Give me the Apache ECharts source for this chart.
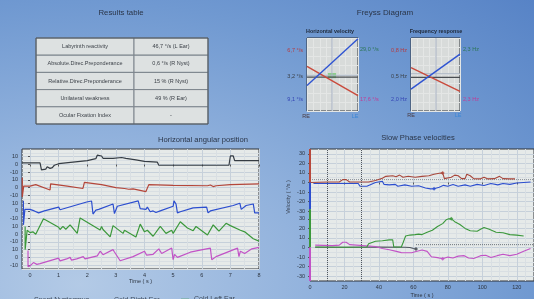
<!DOCTYPE html>
<html>
<head>
<meta charset="utf-8">
<script src="https://cdn.jsdelivr.net/npm/echarts@6/dist/echarts.min.js"></script>
<style>
html, body { margin: 0; padding: 0; width: 534px; height: 299px; overflow: hidden; }
body { background: radial-gradient(ellipse at 15% 95%, #b3cae6 0%, #93b3dd 35%, #7099d1 70%, #5783c6 100%); }
#main { width: 534px; height: 299px; }
</style>
</head>
<body>
<div id="main"></div>
<script>
// results table
const tableLabels = ['Labyrinth reactivity', 'Absolute.Direc.Preponderance', 'Relative.Direc.Preponderance', 'Unilateral weakness', 'Ocular Fixation Index'];
const tableValues = ['46,7 °/s (L Ear)', '0,6 °/s (R Nyst)', '15 % (R Nyst)', '49 % (R Ear)', '-'];

// freyss diagram (x: RE=0 .. LE=1, y: 0..100)
const hvRed = [[0, 61], [1, 21]];
const hvBlue = [[0, 35], [1, 99]];
const hvLevel = 46.5;
const hvLevel2 = 49;
const hvCenter = 0.49;
const hvZone = [[0.41, 45], [0.57, 52]];
const hvLeftLabels = ['6,7 °/s', '3,2 °/s', '9,1 °/s'];
const hvRightLabels = ['29,0 °/s', '17,6 °/s'];
const frRed = [[0, 59.5], [1, 27]];
const frBlue = [[0, 30], [1, 78]];
const frLevel = 46;
const frLevel2 = 51;
const frCenter = 0.51;
const frLeftLabels = ['0,8 Hz', '0,5 Hz', '2,0 Hz'];
const frRightLabels = ['2,3 Hz', '2,3 Hz'];

// horizontal angular position [time s, deg within band]
const hapTicks = [0, 1, 2, 3, 4, 5, 6, 7, 8];
const hapBands = [0, -30, -60, -90, -120];
const spontPos = [[-0.28, 2], [0, 2], [0.35, 2], [0.4, -7], [0.55, -6], [0.6, -3], [0.7, -5], [0.78, -4], [0.85, -1], [1.0, 1], [1.5, 3], [2.0, 5], [2.3, 7.5], [2.35, 12], [2.5, 11], [2.55, 8], [2.9, 8], [3.2, 9], [3.25, 11], [3.35, 8], [3.7, 6], [4.0, 4], [4.45, 3], [4.5, -1], [5, -1], [6, -1], [6.95, -1], [7.0, 11], [7.1, 11], [7.15, 5], [8, 5]];
const warmRightPos = [[-0.27, 13], [-0.27, -12], [-0.22, 2], [0, 2], [0.05, 1], [0.1, 3], [0.2, 4], [0.7, -3], [0.72, 5], [1.3, 2], [1.85, -1], [1.9, 7], [2.5, 4], [3.0, 0], [3.3, -1], [3.35, 1], [3.45, -2], [3.6, -1.5], [4.05, -5], [4.15, 4], [5, 3], [6.2, 2.5], [6.3, 3.5], [6.4, 1.5], [6.5, 2.5], [7, 4], [8, 5]];
const coldRightPos = [[-0.23, 13], [-0.23, -18], [-0.18, 2], [0, 2], [0.15, 0], [0.3, -2.5], [0.5, 0], [1.0, 5], [1.05, 1.5], [1.1, 3], [1.98, 11.5], [2.15, 12.8], [2.2, -4], [2.3, 1], [2.4, 2], [2.9, 9], [2.95, -3.4], [3.0, -3.4], [3.05, 6], [3.1, 6], [3.78, 13], [3.85, 3], [4.05, 2], [4.1, 5], [4.2, -1], [4.3, 0], [4.4, -2], [4.55, 0], [5.0, 6], [5.03, 13], [5.1, 9], [5.15, -2.5], [5.25, -1], [5.7, 4], [6.17, 5], [6.22, -2.5], [6.3, 0], [7.1, 7], [7.33, 10], [7.38, 2], [7.55, 7], [7.8, 9], [7.85, -2.5], [8, -2.5]];
const coldLeftPos = [[-0.17, 10], [-0.17, -20], [-0.1, 5], [0, 2], [0.1, 3], [0.2, 0], [0.47, 20], [1.0, 9], [1.05, 6], [1.15, 10], [1.25, 6.4], [1.4, 12], [1.45, 10], [1.65, 1], [1.75, 21], [2.45, 5.5], [2.5, 10], [2.55, 6], [2.8, -3.6], [2.9, 11], [3.25, 1], [3.3, 5], [3.35, 3], [3.7, -3.6], [3.85, 13], [4.0, 3], [4.1, 5], [4.3, -2.7], [4.55, 10], [4.75, 1], [4.95, 5], [5.0, 1], [5.25, 16], [5.5, 8], [5.7, 4.5], [5.8, 10], [6.2, -1], [6.4, 12], [6.5, 8], [6.6, 4], [6.85, 14], [7.0, 11], [7.35, 5], [7.5, 3], [7.8, -6], [8, -9]];
const warmLeftPos = [[-0.07, 9], [-0.07, -12], [0, -11], [0.12, -6.7], [0.24, -9], [0.35, -8], [1.0, -1], [1.05, -4.5], [1.28, -2], [1.4, 0], [1.45, -3.5], [1.63, -2], [1.86, 1], [1.92, -2], [2.35, 2], [2.45, 8], [2.55, 3.5], [2.9, 10], [2.95, 7], [3.15, -4.4], [3.6, 1], [4.0, 8], [4.07, 3], [4.3, 4], [4.5, 11], [4.6, 5], [4.95, 12], [5.0, -3], [5.05, 4], [5.15, 0], [5.6, 6.7], [5.9, 9], [6.3, 12], [6.35, -3], [6.5, 1], [7.25, 12], [7.3, 1], [7.35, 8], [7.5, 5], [7.75, 11], [8, 13]];

// slow phase velocities [time s, deg/s within band]
const spvBands = [0, -68];
const spvTicks = [30, 20, 10, 0, -10, -20, -30];
const spvMarkTimes = [10, 30];
const spvRed = [[0, 0], [10, 0.5], [17, 0.5], [19, 3], [21, 3], [23, 0.5], [34, 0.5], [38, 2], [42, 4.5], [44, 6.4], [48, 7], [50, 6], [52, 7.7], [54, 5.5], [57, 6.5], [61, 5.4], [65, 6.4], [69, 7], [72, 8.6], [75, 9.6], [77, 10], [78, 4], [82, 5.5], [84, 7.7], [86, 7], [88, 4], [90, 4], [91, 8.6], [93, 7], [95, 4], [99, 3.8], [101, 5.4], [103, 3.8], [107, 4], [110, 6.4], [112, 4], [116, 3.8], [119, 3.8]];
const spvBlue = [[2, -1], [28, -1], [29, -4], [33, -4], [34, -2], [38, 0], [42, 1.3], [43, -2], [46, -2.5], [49.5, -2], [51, -4], [55, -2.5], [59, -4], [63, -3.5], [67, -5.8], [70, -6.7], [72, -6.5], [75, -5], [77.5, -3], [80, -4], [83, -2], [86, -4], [90, -2.5], [93, -4], [97, -2], [101, -3.2], [105, -1], [109, -2.5], [112, -1], [116, -2], [120, -0.5], [124, 0], [128, 0.5]];
const spvGreen = [[3, 0.5], [20, 0.3], [33, 0.5], [34, 4], [38, 6.5], [42, 7], [46, 8], [48, 8], [48.6, 0.6], [53, 0.6], [54, 5], [55.5, 12], [58, 13], [61, 13.5], [63, 14], [65, 13.5], [68, 16], [71, 18], [74, 22], [77, 25], [79, 29], [80.5, 30], [82, 30], [84, 27], [87, 24], [90, 20], [93, 17.5], [97, 17], [99, 19], [101, 21], [104, 19], [108, 16], [112, 15.5], [116, 13.5], [120, 13], [124, 12]];
const spvMagenta = [[3, 2.5], [13, 2], [17, 2.5], [19, 5.5], [21, 5.5], [23, 3], [24, 1.5], [38, 1], [42, -1], [46, -2.3], [49.5, -3.8], [53, -5.3], [59, -5.5], [61, -4.5], [65, -2.5], [68, -4], [70.5, -9.7], [74, -10.6], [77, -11.8], [80, -10], [83, -11], [86, -9], [89.5, -8.5], [92, -11], [95, -11.5], [99, -8.5], [102, -8], [105, -10.5], [108.6, -8.5], [112, -7], [116, -8.5], [120, -7], [124, -3.8], [128, -1]];
const spvSpont = [[3, 0.3], [20, 0.3], [40, 0.5], [55, 0.3], [58, 0], [60, -1], [61.5, -1.5]];
const spvMeanUpper = [[0, 3], [130, 3]];
const spvMeanLower = [[61.5, 3], [130, 3]];
// [time, value, band, colour index]
const spvPeaks = [[77, 10, 0, 0], [72, -6.5, 0, 1], [82, 30, 1, 2], [77, -11.8, 1, 3], [61.5, -1.5, 1, 4]];

const C = {
  dark: '#353c44', red: '#b4463a', blue: '#2c4ecf', green: '#3b983b', pink: '#c253c6',
  plot: '#e6eae9', grid: '#c6d0da', minor: '#d9dfe3', text: '#2a3548'
};
const spvColors = [C.red, C.blue, C.green, C.pink, C.dark];
const FONT = '"Liberation Sans", Arial, sans-serif';

const chart = echarts.init(document.getElementById('main'), null, { renderer: 'canvas' });

const band = (arr, off) => arr.map(p => [p[0], p[1] + off]);
const hapY = [];
hapBands.forEach(b => [10, 0, -10].forEach(v => hapY.push(b + v)));
const hapYMinor = hapY.map(v => v + 5).concat([hapY[hapY.length - 1] - 5]);
const spvY = [];
spvBands.forEach(b => spvTicks.forEach(v => spvY.push(b + v)));
const spvYMinor = [];
spvBands.forEach(b => [25, 15, 5, -5, -15, -25].forEach(v => spvYMinor.push(b + v)));
const spvSplit = spvBands[1] / 2;

function txt(text, x, y, size, color, align, extra) {
  return Object.assign({
    type: 'text', x: x, y: y, silent: true,
    style: { text: text, fill: color, font: size + 'px ' + FONT, textAlign: align || 'center', textVerticalAlign: 'middle', align: align || 'center', verticalAlign: 'middle' }
  }, extra || {});
}

// table + texts
const graphics = [];
const tX = [36, 134, 208];
const tTop = 38;
const rowH = 17.2;
tableLabels.forEach((lab, i) => {
  const y = tTop + i * rowH;
  graphics.push({ type: 'rect', shape: { x: tX[0], y: y, width: tX[1] - tX[0], height: rowH }, style: { fill: '#dde1e1', stroke: '#7c848c', lineWidth: 1 }, silent: true });
  graphics.push({ type: 'rect', shape: { x: tX[1], y: y, width: tX[2] - tX[1], height: rowH }, style: { fill: '#dde1e1', stroke: '#7c848c', lineWidth: 1 }, silent: true });
  graphics.push(txt(lab, (tX[0] + tX[1]) / 2, y + rowH / 2, 5.5, '#3a3f46'));
  graphics.push(txt(tableValues[i], (tX[1] + tX[2]) / 2, y + rowH / 2, 5.5, '#3a3f46'));
});
graphics.push({ type: 'rect', shape: { x: tX[0], y: tTop, width: tX[2] - tX[0], height: rowH * 5 }, style: { fill: 'none', stroke: '#4c545c', lineWidth: 1 }, silent: true });

graphics.push(txt('Results table', 121, 13, 7.8, C.text));
graphics.push(txt('Freyss Diagram', 385, 13, 8, C.text));
graphics.push(txt('Horizontal angular position', 203, 140, 7.6, C.text));
graphics.push(txt('Slow Phase velocities', 418, 138, 7.6, C.text));
const boldSmall = t => ({ text: t, fill: '#1e2838', font: 'bold 5.4px ' + FONT, textAlign: 'center', textVerticalAlign: 'middle', align: 'center', verticalAlign: 'middle' });
graphics.push(txt('Horizontal velocity', 330, 32, 5.6, '#1e2838', 'center', { style: boldSmall('Horizontal velocity') }));
graphics.push(txt('Frequency response', 436, 32, 5.6, '#1e2838', 'center', { style: boldSmall('Frequency response') }));

const leftCols = ['#b43a40', '#3a4048', '#3444b4'];
const rightCols = ['#2c7656', '#c03c96'];
const leftY = [50, 76, 99];
const rightY = [49, 99];
hvLeftLabels.forEach((t, i) => graphics.push(txt(t, 303, leftY[i], 5.5, leftCols[i], 'right')));
hvRightLabels.forEach((t, i) => graphics.push(txt(t, 360, rightY[i], 5.5, rightCols[i], 'left')));
frLeftLabels.forEach((t, i) => graphics.push(txt(t, 407, leftY[i], 5.5, leftCols[i], 'right')));
frRightLabels.forEach((t, i) => graphics.push(txt(t, 463, rightY[i], 5.5, rightCols[i], 'left')));
graphics.push(txt('RE', 306, 116, 5.5, '#4a3a40'));
graphics.push(txt('LE', 355, 116, 5.5, '#3a86d6'));
graphics.push(txt('RE', 411, 115, 5.5, '#4a3a40'));
graphics.push(txt('LE', 458, 115, 5.5, '#3a86d6'));
graphics.push(txt('Velocity ( °/s )', 288, 197, 5.5, '#3a4454', 'center', { rotation: Math.PI / 2 }));

const axisText = { fontSize: 5.5, color: '#2c3440', fontFamily: FONT };
const hidden = { show: false };

function box(gi) {
  return [
    { gridIndex: gi, type: 'value', min: 0, max: 1, interval: 0.125, axisLabel: hidden, axisTick: hidden, axisLine: hidden, splitLine: { lineStyle: { color: '#e4e6e5', width: 1 } } },
    { gridIndex: gi, type: 'value', min: 0, max: 100, interval: 12.5, axisLabel: hidden, axisTick: hidden, axisLine: hidden, splitLine: { lineStyle: { color: '#e4e6e5', width: 1 } } }
  ];
}
const hvAxes = box(2);
const frAxes = box(3);

function seg(data, color, width, xi, yi, extra) {
  return Object.assign({
    type: 'line', data: data, xAxisIndex: xi, yAxisIndex: yi, showSymbol: false, silent: true,
    animation: false, lineStyle: { color: color, width: width }, itemStyle: { color: color }
  }, extra || {});
}

const option = {
  animation: false,
  backgroundColor: 'transparent',
  textStyle: { fontFamily: FONT },
  graphic: graphics,
  grid: [
    { left: 22, right: 275, top: 149, bottom: 30, show: true, backgroundColor: C.plot, borderColor: '#2e3338', borderWidth: 1 },
    { left: 310, right: -4, top: 149, bottom: 7, show: true, backgroundColor: C.plot, borderColor: '#2e3338', borderWidth: 1 },
    { left: 307, width: 51, top: 38, height: 73, show: true, backgroundColor: '#d8dbda', borderColor: '#2e3338', borderWidth: 1 },
    { left: 411, width: 49, top: 38, height: 73, show: true, backgroundColor: '#d8dbda', borderColor: '#2e3338', borderWidth: 1 }
  ],
  legend: [
    { data: ['Spont Nystagmus'], left: 16, top: 292, icon: 'rect', itemWidth: 8, itemHeight: 1.5, textStyle: { fontSize: 7, color: '#3c4a5c', fontFamily: FONT } },
    { data: ['Cold Right Ear'], left: 96, top: 292, icon: 'rect', itemWidth: 8, itemHeight: 1.5, textStyle: { fontSize: 7, color: '#3c4a5c', fontFamily: FONT } },
    { data: ['Cold Left Ear'], left: 176, top: 291, icon: 'rect', itemWidth: 8, itemHeight: 1.5, textStyle: { fontSize: 7, color: '#3c4a5c', fontFamily: FONT } }
  ],
  xAxis: [
    { gridIndex: 0, type: 'value', min: -0.28, max: 8, name: 'Time ( s )', nameLocation: 'middle', nameGap: 9, nameTextStyle: { fontSize: 5.5, color: '#2c3440' },
      axisLabel: Object.assign({ customValues: hapTicks, margin: 3 }, axisText), axisTick: { customValues: hapTicks, length: 2, lineStyle: { color: '#555' } },
      axisLine: hidden, splitLine: { lineStyle: { color: C.grid, width: 1 } } },
    { gridIndex: 0, type: 'value', min: -0.28, max: 8, axisLabel: { show: false, customValues: hapTicks.map(v => v + 0.5) }, axisTick: { show: false, customValues: hapTicks.map(v => v + 0.5) },
      axisLine: hidden, splitLine: { lineStyle: { color: C.minor, width: 1 } } },
    { gridIndex: 1, type: 'value', min: 0, max: 130, interval: 20, name: 'Time ( s )', nameLocation: 'middle', nameGap: 11, nameTextStyle: { fontSize: 5.5, color: '#2c3440' },
      axisLabel: Object.assign({ margin: 3, showMaxLabel: false }, axisText), axisTick: { length: 2 }, axisLine: hidden,
      splitLine: { lineStyle: { color: C.grid, width: 1 } }, minorTick: { show: false, splitNumber: 4 }, minorSplitLine: { show: true, lineStyle: { color: C.minor, width: 1 } } },
    hvAxes[0], frAxes[0]
  ],
  yAxis: [
    { gridIndex: 0, type: 'value', min: -135, max: 20,
      axisLabel: Object.assign({ customValues: hapY, margin: 4, formatter: v => String(Math.round(v - Math.round(v / 30) * 30)) }, axisText),
      axisTick: { customValues: hapY, length: 2 }, axisLine: hidden, splitLine: { lineStyle: { color: C.grid, width: 1 } } },
    { gridIndex: 0, type: 'value', min: -135, max: 20, axisLabel: { show: false, customValues: hapYMinor }, axisTick: { show: false, customValues: hapYMinor },
      axisLine: hidden, splitLine: { lineStyle: { color: C.minor, width: 1 } } },
    { gridIndex: 1, type: 'value', min: -103, max: 35,
      axisLabel: Object.assign({ customValues: spvY, margin: 5, formatter: v => String(v > spvSplit ? v : v - spvBands[1]) }, axisText),
      axisTick: { customValues: spvY, length: 2 }, axisLine: hidden, splitLine: { lineStyle: { color: C.grid, width: 1 } } },
    { gridIndex: 1, type: 'value', min: -103, max: 35, axisLabel: { show: false, customValues: spvYMinor }, axisTick: { show: false, customValues: spvYMinor },
      axisLine: hidden, splitLine: { lineStyle: { color: C.minor, width: 1 } } },
    hvAxes[1], frAxes[1]
  ],
  series: [
    // horizontal angular position
    seg(band(spontPos, hapBands[0]), C.dark, 1.2, 0, 0, { name: 'Spont Nystagmus' }),
    seg(band(warmRightPos, hapBands[1]), C.red, 1.2, 0, 0, { name: 'Warm Right Ear' }),
    seg(band(coldRightPos, hapBands[2]), C.blue, 1.2, 0, 0, { name: 'Cold Right Ear' }),
    seg(band(coldLeftPos, hapBands[3]), C.green, 1.2, 0, 0, { name: 'Cold Left Ear' }),
    seg(band(warmLeftPos, hapBands[4]), C.pink, 1.2, 0, 0, { name: 'Warm Left Ear' }),

    // slow phase velocities
    seg(spvMeanUpper, '#8a9098', 1, 2, 2, { lineStyle: { color: '#8a9098', width: 1, type: 'dotted' } }),
    seg(band(spvMeanLower, spvBands[1]), '#6a7078', 1, 2, 2, { lineStyle: { color: '#6a7078', width: 1, type: 'dotted' } }),
    seg(band(spvSpont, spvBands[1]), '#50565e', 1.1, 2, 2, {
      markLine: { silent: true, symbol: 'none', label: { show: false }, lineStyle: { color: '#50565e', type: 'dotted', width: 1 },
        data: spvMarkTimes.map(t => ({ xAxis: t })) }
    }),
    seg(band(spvMagenta, spvBands[1]), C.pink, 1.1, 2, 2),
    seg(band(spvGreen, spvBands[1]), C.green, 1.1, 2, 2),
    seg(band(spvBlue, spvBands[0]), C.blue, 1.1, 2, 2),
    seg(band(spvRed, spvBands[0]), '#a8463a', 1.1, 2, 2),
    seg([[0, 35], [0, 0]], '#b8483c', 2, 2, 2, { clip: false }),
    seg([[0, 0], [0, -28]], C.blue, 2, 2, 2, { clip: false }),
    seg([[0, -28], [0, -68]], C.green, 2, 2, 2, { clip: false }),
    seg([[0, -68], [0, -103]], C.pink, 2, 2, 2, { clip: false }),
    { type: 'scatter', xAxisIndex: 2, yAxisIndex: 2, symbol: 'diamond', symbolSize: 4, silent: true,
      data: spvPeaks.map(p => ({ value: [p[0], p[1] + spvBands[p[2]]], itemStyle: { color: spvColors[p[3]] } })) },

    // freyss: horizontal velocity
    seg([[hvCenter, 0], [hvCenter, 100]], '#a9b4c4', 1, 3, 4),
    seg([[0, hvLevel2], [1, hvLevel2]], '#a9b4c4', 1, 3, 4),
    seg([[0, hvLevel], [1, hvLevel]], '#4a4e52', 1.3, 3, 4, {
      markArea: { silent: true, itemStyle: { color: 'rgba(110, 200, 110, 0.75)' }, data: [[{ coord: hvZone[0] }, { coord: hvZone[1] }]] }
    }),
    seg(hvRed, '#c94a3c', 1.4, 3, 4),
    seg(hvBlue, '#2f54d2', 1.4, 3, 4),

    // freyss: frequency response
    seg([[frCenter, 0], [frCenter, 100]], '#a9b4c4', 1, 4, 5),
    seg([[0, frLevel2], [1, frLevel2]], '#a9b4c4', 1, 4, 5),
    seg([[0, frLevel], [1, frLevel]], '#4a4e52', 1.3, 4, 5),
    seg(frRed, '#c94a3c', 1.4, 4, 5),
    seg(frBlue, '#2f54d2', 1.4, 4, 5)
  ]
};

chart.setOption(option);
</script>
</body>
</html>
